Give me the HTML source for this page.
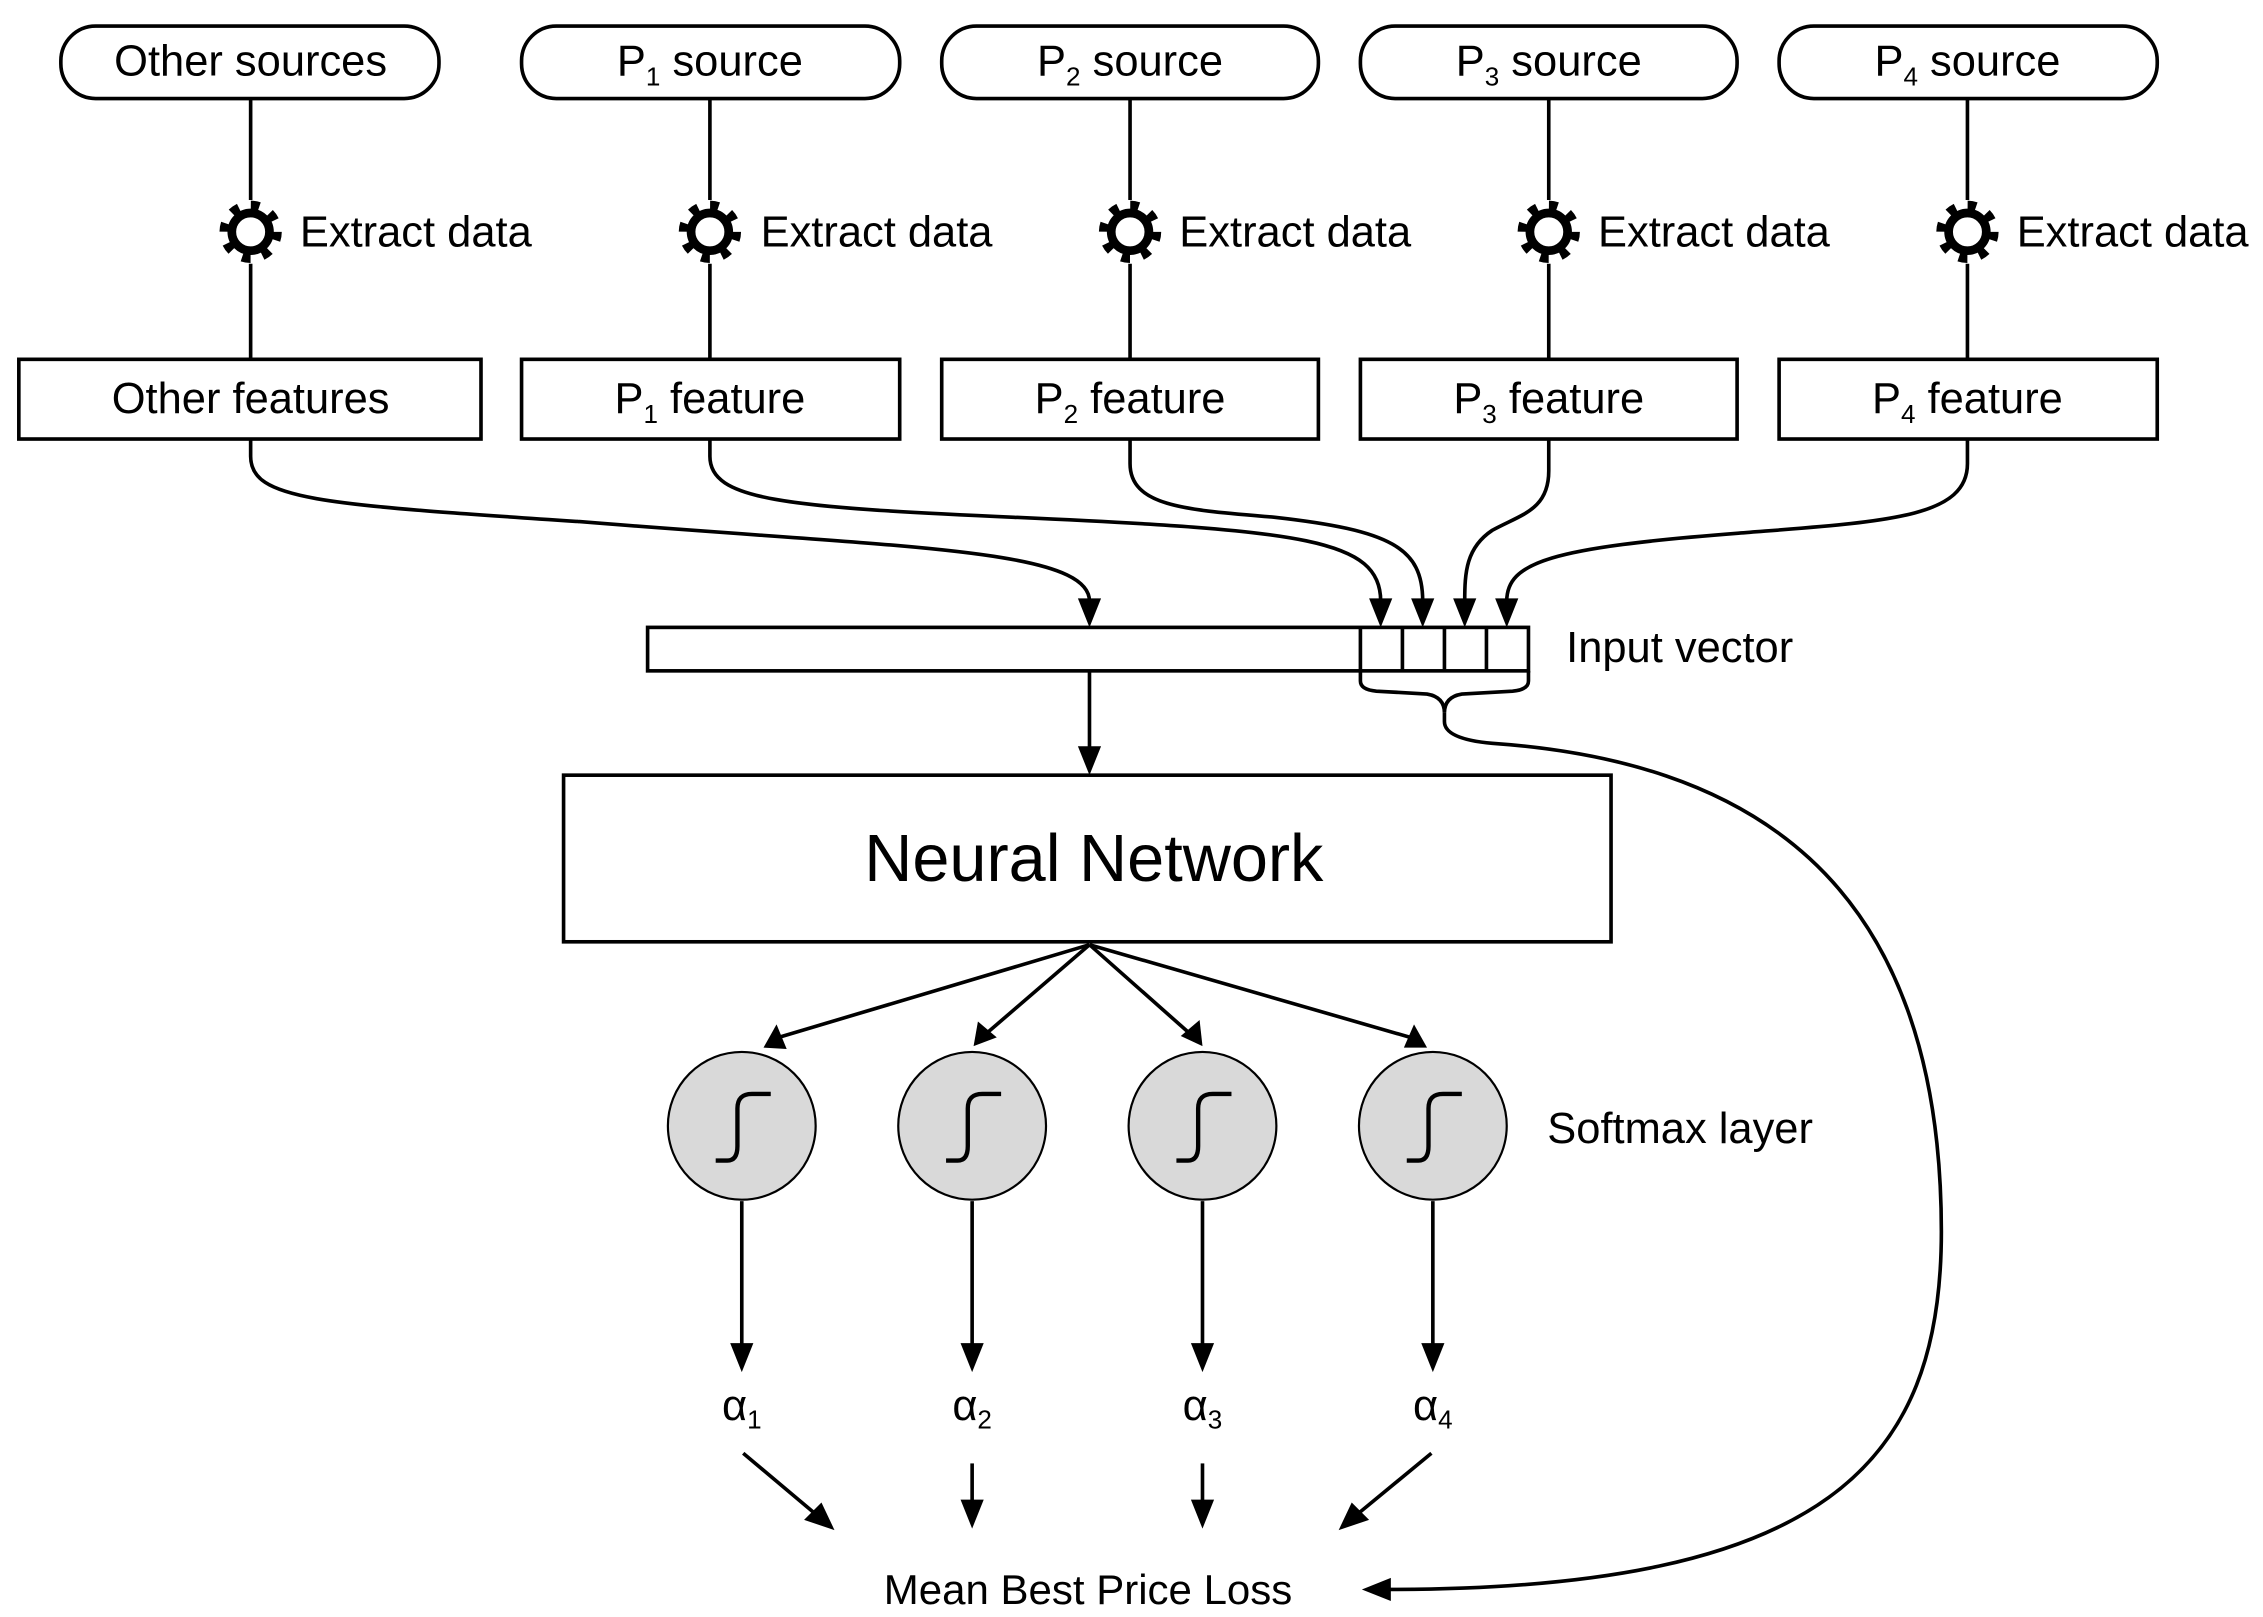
<!DOCTYPE html>
<html><head><meta charset="utf-8"><style>
html,body{margin:0;padding:0;background:#fff;}
svg{display:block;}
text{font-family:"Liberation Sans",Arial,sans-serif;fill:#000;}
</style></head><body>
<svg width="2263" height="1617" viewBox="0 0 1562 1116" preserveAspectRatio="none" xmlns="http://www.w3.org/2000/svg">
<defs>
<g id="gear">
<circle cx="0" cy="0" r="17" fill="none" stroke="#000" stroke-width="9" stroke-dasharray="5.5 7.85" />
<circle cx="0" cy="0" r="13" fill="#fff" stroke="#000" stroke-width="6"/>
</g>
<g id="sig">
<path d="M-20,24 L-12,24 Q-5,24 -5,14 L-5,-12 Q-5,-22 5,-22 L18,-22" fill="none" stroke="#000" stroke-width="3"/>
</g>
</defs>

<g fill="#fff" stroke="#000" stroke-width="2.5">
<rect x="42" y="18" width="261" height="50" rx="24"/>
<rect x="360" y="18" width="261" height="50" rx="24"/>
<rect x="650" y="18" width="260" height="50" rx="24"/>
<rect x="939" y="18" width="260" height="50" rx="24"/>
<rect x="1228" y="18" width="261" height="50" rx="24"/>
<rect x="13" y="248" width="319" height="55"/>
<rect x="360" y="248" width="261" height="55"/>
<rect x="650" y="248" width="260" height="55"/>
<rect x="939" y="248" width="260" height="55"/>
<rect x="1228" y="248" width="261" height="55"/>
</g>

<g stroke="#000" stroke-width="2.5">
<line x1="173" y1="68" x2="173" y2="138"/><line x1="173" y1="182" x2="173" y2="248"/>
<line x1="490" y1="68" x2="490" y2="138"/><line x1="490" y1="182" x2="490" y2="248"/>
<line x1="780" y1="68" x2="780" y2="138"/><line x1="780" y1="182" x2="780" y2="248"/>
<line x1="1069" y1="68" x2="1069" y2="138"/><line x1="1069" y1="182" x2="1069" y2="248"/>
<line x1="1358" y1="68" x2="1358" y2="138"/><line x1="1358" y1="182" x2="1358" y2="248"/>
</g>
<use href="#gear" x="173" y="160"/>
<use href="#gear" x="490" y="160"/>
<use href="#gear" x="780" y="160"/>
<use href="#gear" x="1069" y="160"/>
<use href="#gear" x="1358" y="160"/>

<g font-size="30">
<text x="173" y="52" text-anchor="middle">Other sources</text>
<text x="490" y="52" text-anchor="middle">P<tspan font-size="18" dy="7">1</tspan><tspan dy="-7"> source</tspan></text>
<text x="780" y="52" text-anchor="middle">P<tspan font-size="18" dy="7">2</tspan><tspan dy="-7"> source</tspan></text>
<text x="1069" y="52" text-anchor="middle">P<tspan font-size="18" dy="7">3</tspan><tspan dy="-7"> source</tspan></text>
<text x="1358" y="52" text-anchor="middle">P<tspan font-size="18" dy="7">4</tspan><tspan dy="-7"> source</tspan></text>
<text x="207" y="170">Extract data</text>
<text x="525" y="170">Extract data</text>
<text x="814" y="170">Extract data</text>
<text x="1103" y="170">Extract data</text>
<text x="1392" y="170">Extract data</text>
<text x="173" y="285" text-anchor="middle">Other features</text>
<text x="490" y="285" text-anchor="middle">P<tspan font-size="18" dy="7">1</tspan><tspan dy="-7"> feature</tspan></text>
<text x="780" y="285" text-anchor="middle">P<tspan font-size="18" dy="7">2</tspan><tspan dy="-7"> feature</tspan></text>
<text x="1069" y="285" text-anchor="middle">P<tspan font-size="18" dy="7">3</tspan><tspan dy="-7"> feature</tspan></text>
<text x="1358" y="285" text-anchor="middle">P<tspan font-size="18" dy="7">4</tspan><tspan dy="-7"> feature</tspan></text>
<text x="1081" y="457">Input vector</text>
<text x="1068" y="789">Softmax layer</text>
<text x="751" y="1107" text-anchor="middle" font-size="29">Mean Best Price Loss</text>
</g>

<g fill="none" stroke="#000" stroke-width="2.5">
<path d="M173,303 V315 C173,345 220,348 400,360 C620,378 752,378 752,415"/>
<path d="M490,303 V315 C490,345 540,350 700,357 C900,366 953,372 953,415"/>
<path d="M780,303 V320 C780,350 820,352 880,357 C960,366 982,378 982,415"/>
<path d="M1069,303 V325 C1069,352 1050,355 1030,366 C1012,378 1011,395 1011,415"/>
<path d="M1358,303 V320 C1358,358 1300,360 1200,368 C1070,378 1040,388 1040,415"/>
<rect x="447" y="433" width="608" height="30" fill="#fff"/>
<line x1="939" y1="433" x2="939" y2="463"/>
<line x1="968" y1="433" x2="968" y2="463"/>
<line x1="997" y1="433" x2="997" y2="463"/>
<line x1="1026" y1="433" x2="1026" y2="463"/>
<path d="M939,463 V470 Q939,476 950,477 L985,479 Q997,481 997,492 Q997,481 1009,479 L1044,477 Q1055,476 1055,470 V463"/>
<path d="M997,492 V498 Q997,510 1030,513 C1200,525 1340,600 1340,850 C1340,1010 1260,1097 958,1097"/>
<line x1="752" y1="463" x2="752" y2="516"/>
<rect x="389" y="535" width="723" height="115" fill="#fff"/>
<line x1="752" y1="652" x2="534" y2="717"/>
<line x1="752" y1="652" x2="680" y2="714"/>
<line x1="752" y1="652" x2="822" y2="714"/>
<line x1="752" y1="652" x2="977" y2="717"/>
<line x1="512" y1="829" x2="512" y2="930"/>
<line x1="671" y1="829" x2="671" y2="930"/>
<line x1="830" y1="829" x2="830" y2="930"/>
<line x1="989" y1="829" x2="989" y2="930"/>
<line x1="513" y1="1003" x2="563" y2="1045"/>
<line x1="671" y1="1010" x2="671" y2="1038"/>
<line x1="830" y1="1010" x2="830" y2="1038"/>
<line x1="988" y1="1003" x2="937" y2="1045"/>
</g>
<text x="755" y="608" text-anchor="middle" font-size="46">Neural Network</text>

<g fill="#000">
<polygon points="752,433 744,413 760,413"/>
<polygon points="953,433 945,413 961,413"/>
<polygon points="982,433 974,413 990,413"/>
<polygon points="1011,433 1003,413 1019,413"/>
<polygon points="1040,433 1032,413 1048,413"/>
<polygon points="752,535 744,515 760,515"/>
<polygon points="940,1097 960,1089 960,1105"/>
<polygon points="512,947 504,927 520,927"/>
<polygon points="671,947 663,927 679,927"/>
<polygon points="830,947 822,927 838,927"/>
<polygon points="989,947 981,927 997,927"/>
<polygon points="671,1055 663,1035 679,1035"/>
<polygon points="830,1055 822,1035 838,1035"/>
<polygon points="576,1056 555,1049 567,1037"/>
<polygon points="924,1056 933,1037 945,1049"/>
<polygon points="527,723 536,707 543,724"/>
<polygon points="672,722 675,705 688,716"/>
<polygon points="830,722 815,715 828,704"/>
<polygon points="985,723 969,723 976,707"/>
</g>

<g fill="#d9d9d9" stroke="#000" stroke-width="1.5">
<circle cx="512" cy="777" r="51"/>
<circle cx="671" cy="777" r="51"/>
<circle cx="830" cy="777" r="51"/>
<circle cx="989" cy="777" r="51"/>
</g>
<use href="#sig" x="514" y="777"/>
<use href="#sig" x="673" y="777"/>
<use href="#sig" x="832" y="777"/>
<use href="#sig" x="991" y="777"/>

<g font-size="30" text-anchor="middle">
<text x="512" y="980">α<tspan font-size="18" dy="6">1</tspan></text>
<text x="671" y="980">α<tspan font-size="18" dy="6">2</tspan></text>
<text x="830" y="980">α<tspan font-size="18" dy="6">3</tspan></text>
<text x="989" y="980">α<tspan font-size="18" dy="6">4</tspan></text>
</g>
</svg>
</body></html>
